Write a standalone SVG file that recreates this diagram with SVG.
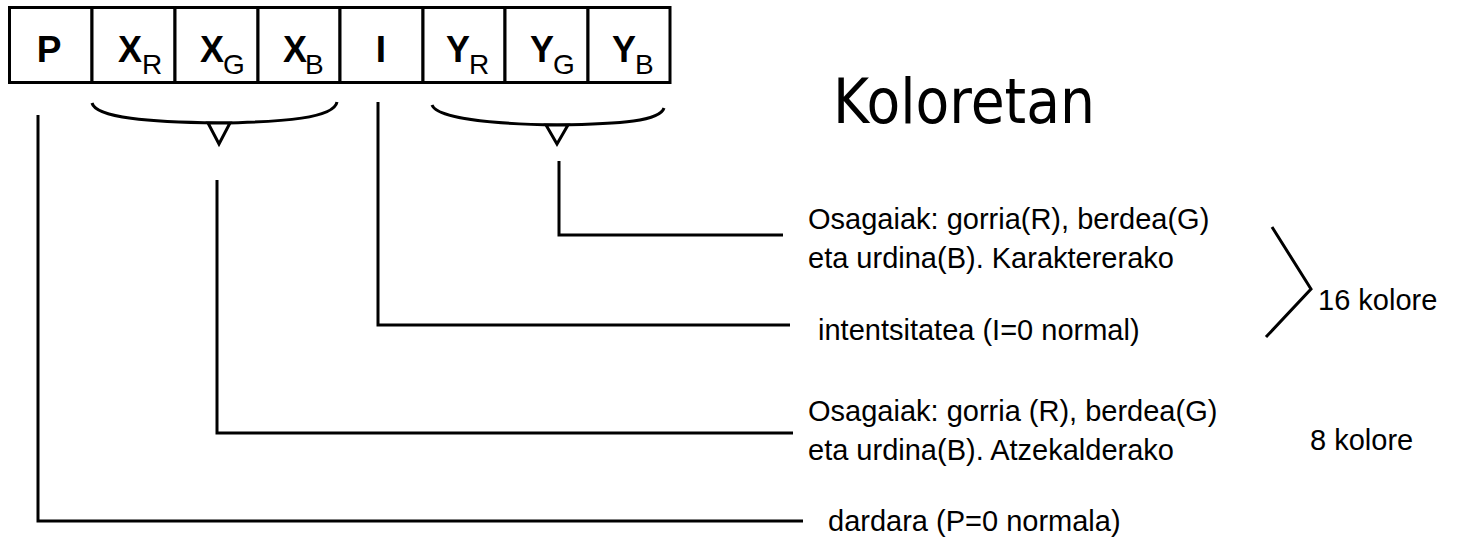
<svg xmlns="http://www.w3.org/2000/svg" width="1474" height="537" viewBox="0 0 1474 537">
<style>
.box{fill:#fff;stroke:#000;stroke-width:3}
.big{font-family:"Liberation Sans",Arial,sans-serif;font-weight:bold;font-size:37px;fill:#000}
.sub{font-family:"Liberation Sans",Arial,sans-serif;font-size:28px;fill:#000}
.lbl{font-family:"Liberation Sans",Arial,sans-serif;font-size:29px;fill:#000}
.title{font-family:"DejaVu Sans",Verdana,sans-serif;font-size:62px;fill:#000}
.ln{fill:none;stroke:#000;stroke-width:3}
.tri{fill:#fff;stroke:#000;stroke-width:3;stroke-linejoin:miter}
</style>
<g id="register">
<g id="cell-P"><rect class="box" x="9.5" y="7.5" width="82.5" height="75"/><text class="big" x="49" y="62" text-anchor="middle">P</text></g>
<g id="cell-XR"><rect class="box" x="92" y="7.5" width="83" height="75"/><text class="big" x="118" y="62" textLength="24" lengthAdjust="spacingAndGlyphs">X</text><text class="sub" x="142" y="74">R</text></g>
<g id="cell-XG"><rect class="box" x="175" y="7.5" width="83" height="75"/><text class="big" x="200" y="62" textLength="24" lengthAdjust="spacingAndGlyphs">X</text><text class="sub" x="223" y="74">G</text></g>
<g id="cell-XB"><rect class="box" x="258" y="7.5" width="82" height="75"/><text class="big" x="283" y="62" textLength="24" lengthAdjust="spacingAndGlyphs">X</text><text class="sub" x="305" y="74">B</text></g>
<g id="cell-I"><rect class="box" x="340" y="7.5" width="83" height="75"/><text class="big" x="381" y="62" text-anchor="middle">I</text></g>
<g id="cell-YR"><rect class="box" x="423" y="7.5" width="82" height="75"/><text class="big" x="446" y="62" textLength="24" lengthAdjust="spacingAndGlyphs">Y</text><text class="sub" x="469" y="74">R</text></g>
<g id="cell-YG"><rect class="box" x="505" y="7.5" width="83" height="75"/><text class="big" x="530" y="62" textLength="24" lengthAdjust="spacingAndGlyphs">Y</text><text class="sub" x="553" y="74">G</text></g>
<g id="cell-YB"><rect class="box" x="588" y="7.5" width="82" height="75"/><text class="big" x="612" y="62" textLength="24" lengthAdjust="spacingAndGlyphs">Y</text><text class="sub" x="635" y="74">B</text></g>
</g>
<g id="brace-X">
<path class="ln" d="M92,103 C96,118 150,122 218,123 C285,122 334,118 337,102"/>
<polygon class="tri" points="208,123 230,123 219,144"/>
</g>
<g id="brace-Y">
<path class="ln" d="M432,105 C437,118 490,124 557,125 C622,124 660,121 664,108"/>
<polygon class="tri" points="546,125 568,125 557,144"/>
</g>
<g id="title"><text class="title" x="833" y="123" textLength="262" lengthAdjust="spacingAndGlyphs">Koloretan</text></g>
<g id="connectors">
<path class="ln" d="M559,161 V235 H783"/>
<path class="ln" d="M378,102 V325 H790"/>
<path class="ln" d="M217,180 V433 H793"/>
<path class="ln" d="M38,115 V521 H803"/>
</g>
<g id="label-Y"><text class="lbl" x="808" y="229">Osagaiak: gorria(R), berdea(G)</text><text class="lbl" x="808" y="268">eta urdina(B). Karaktererako</text></g>
<g id="label-I"><text class="lbl" x="818" y="340">intentsitatea (I=0 normal)</text></g>
<g id="label-X"><text class="lbl" x="808" y="421">Osagaiak: gorria (R), berdea(G)</text><text class="lbl" x="808" y="460">eta urdina(B). Atzekalderako</text></g>
<g id="label-P"><text class="lbl" x="828" y="531">dardara (P=0 normala)</text></g>
<g id="group-16"><path class="ln" d="M1272,227 L1311,289 L1266,337"/><text class="lbl" x="1318" y="310">16 kolore</text></g>
<g id="label-8"><text class="lbl" x="1310" y="450">8 kolore</text></g>
</svg>
